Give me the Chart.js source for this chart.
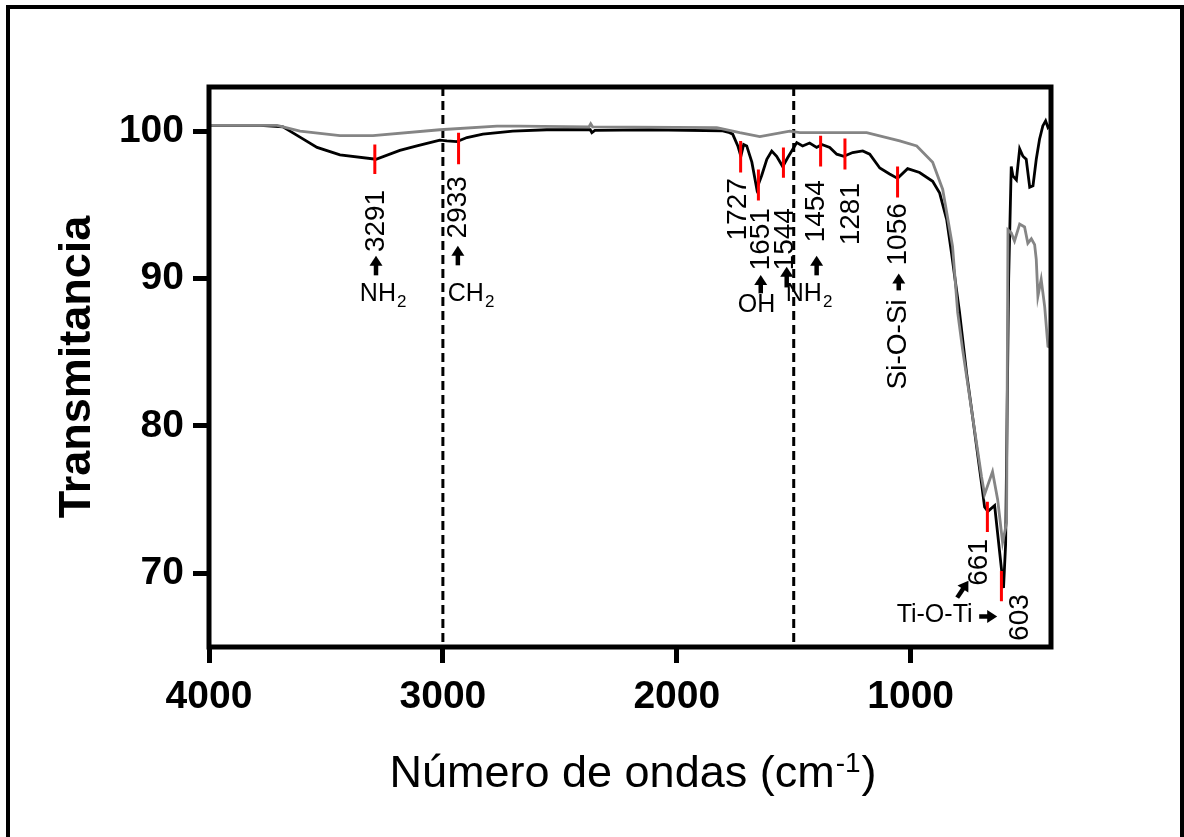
<!DOCTYPE html>
<html lang="es">
<head>
<meta charset="utf-8">
<title>FTIR - Transmitancia</title>
<script src="https://cdn.jsdelivr.net/npm/chart.js@4.4.1/dist/chart.umd.min.js"></script>
<style>
  html, body { margin: 0; padding: 0; background: #fff; }
  body { width: 1184px; height: 837px; overflow: hidden; position: relative; }
  #frame {
    position: absolute; left: 6px; top: 5px;
    width: 1170px; height: 900px;
    border: 4px solid #000; border-bottom: none;
  }
  #chart { position: absolute; left: 0; top: 0; }
</style>
</head>
<body>
<div id="frame"></div>
<canvas id="chart" width="1184" height="837"></canvas>
<script>
/* ========== DATA ========== */
const xTicks = [4000, 3000, 2000, 1000];
const yTicks = [70, 80, 90, 100];
const xMin = 400, xMax = 4000;
const yMin = 65, yMax = 103;

// black spectrum (wavenumber, transmittance)
const blackWn = [4000, 3782, 3684, 3611, 3538, 3440, 3286, 3184, 3111, 3013, 2983, 2940,
  2897, 2829, 2701, 2556, 2402, 2370, 2363, 2350, 2115, 1803, 1774, 1761, 1739, 1726,
  1714, 1701, 1679, 1658, 1637, 1615, 1594, 1573, 1547, 1526, 1487, 1462, 1432, 1402,
  1380, 1346, 1316, 1286, 1248, 1205, 1175, 1132, 1090, 1056, 1013, 962, 906, 876, 846,
  825, 791, 761, 735, 697, 684, 670, 641, 603, 594, 581, 570, 563, 548, 534, 520, 506,
  491, 477, 463, 449, 435, 423, 413, 400];
const blackT = [100.4, 100.4, 100.3, 99.6, 98.9, 98.4, 98.1, 98.7, 99.0, 99.4, 99.35, 99.3,
  99.57, 99.8, 100.0, 100.1, 100.1, 100.1, 99.9, 100.05, 100.1, 100.02, 99.9, 99.8, 99.0, 98.3,
  99.1, 99.0, 97.9, 96.1, 97.0, 98.1, 98.66, 98.3, 97.6, 98.2, 99.23, 99.0, 99.2, 98.9,
  99.1, 98.9, 98.44, 98.3, 98.55, 98.66, 98.44, 97.5, 97.1, 96.8, 97.46, 97.2, 96.6, 95.8, 94.0,
  91.7, 87.7, 83.6, 80.6, 76.1, 74.5, 74.2, 74.6, 69.0, 72.0, 90.0, 97.6, 96.97, 96.7, 98.8, 98.3, 98.1,
  96.2, 96.3, 98.1, 99.46, 100.36, 100.7, 100.25, 100.5];

// gray spectrum (wavenumber, transmittance)
const grayWn = [4000, 3709, 3611, 3440, 3299, 3013, 2769, 2671, 2375, 2368, 2360, 1829,
  1731, 1645, 1517, 1474, 1188, 1047, 974, 906, 863, 821, 799, 778, 735, 697, 684, 650,
  628, 607, 590, 584, 570, 556, 534, 513, 499, 484, 470, 463, 456, 442, 427, 413, 400];
const grayT = [100.4, 100.4, 100.0, 99.7, 99.7, 100.1, 100.35, 100.35, 100.3, 100.5, 100.3, 100.25,
  99.9, 99.64, 100.0, 99.9, 99.9, 99.34, 99.0, 97.9, 96.05, 92.2, 87.7, 85.2, 80.6, 76.55, 75.35, 76.9,
  75.0, 72.1, 73.4, 93.3, 93.1, 92.55, 93.7, 93.5, 92.4, 92.7, 92.3, 91.3, 88.8, 89.95, 88.1, 85.4, 85.3];

// dashed reference lines
const dashWn = [3000, 1500];

// red peak marks
const peakWn = [3291, 2933, 1727, 1651, 1544, 1385, 1281, 1056, 672, 612];
const peakTop = [99.1, 99.9, 99.34, 97.4, 98.9, 99.7, 99.5, 97.6, 74.85, 70.15];
const peakBottom = [97.1, 97.75, 97.2, 95.3, 96.85, 97.6, 97.4, 95.5, 72.8, 68.1];

/* ========== ANNOTATION LAYOUT ========== */
const FONT = "'Liberation Sans', Arial, sans-serif";

const numberLabels = [
  { text: "3291", wn: 3286, t: 93.91 },
  { text: "2933", wn: 2936, t: 94.84 },
  { text: "1727", wn: 1735, t: 94.70 },
  { text: "1651", wn: 1637, t: 92.67 },
  { text: "1544", wn: 1538, t: 92.67 },
  { text: "1454", wn: 1402, t: 94.57 },
  { text: "1281", wn: 1252, t: 94.37 },
  { text: "1056", wn: 1051, t: 93.0 },
  { text: "661", wn: 705, t: 70.74 },
  { text: "603", wn: 530, t: 67.0 },
  { text: "Si-O-Si", wn: 1051, t: 85.54 }
];

const groupLabels = [
  { text: "NH", sub: "2", wn: 3355, t: 88.93 },
  { text: "CH", sub: "2", wn: 2979, t: 88.93 },
  { text: "OH", sub: "", wn: 1739, t: 88.19 },
  { text: "NH", sub: "2", wn: 1534, t: 88.93 },
  { text: "Ti-O-Ti", sub: "", wn: 1060, t: 67.14 }
];

const arrows = [
  { from: [3286, 90.22], to: [3286, 91.55] },
  { from: [2936, 90.9], to: [2936, 92.23] },
  { from: [1641, 89.0], to: [1641, 90.25] },
  { from: [1530, 89.4], to: [1530, 90.8] },
  { from: [1402, 90.22], to: [1402, 91.55] },
  { from: [1051, 89.2], to: [1051, 90.35] },
  { from: [801, 68.35], to: [753, 69.5] },
  { from: [707, 67.07], to: [630, 67.07] }
];

/* ========== HELPERS ========== */
function toPoints(xs, ys) {
  return xs.map((x, i) => ({ x: x, y: ys[i] }));
}

function segmentPoints(xs, tops, bottoms) {
  const pts = [];
  xs.forEach((x, i) => {
    pts.push({ x: x, y: tops[i] }, { x: x, y: bottoms[i] }, { x: x, y: null });
  });
  return pts;
}

function drawArrow(ctx, x1, y1, x2, y2) {
  const ang = Math.atan2(y2 - y1, x2 - x1);
  const head = 10, half = 6.5;
  const bx = x2 - head * Math.cos(ang);
  const by = y2 - head * Math.sin(ang);
  ctx.lineWidth = 4.5;
  ctx.beginPath();
  ctx.moveTo(x1, y1);
  ctx.lineTo(bx + 1 * Math.cos(ang), by + 1 * Math.sin(ang));
  ctx.stroke();
  ctx.beginPath();
  ctx.moveTo(x2, y2);
  ctx.lineTo(bx + half * Math.sin(ang), by - half * Math.cos(ang));
  ctx.lineTo(bx - half * Math.sin(ang), by + half * Math.cos(ang));
  ctx.closePath();
  ctx.fill();
}

/* ========== PLUGIN: frame + annotations ========== */
const annotationPlugin = {
  id: "ftirAnnotations",
  afterDraw(chart) {
    const ctx = chart.ctx;
    const area = chart.chartArea;
    const sx = chart.scales.x;
    const sy = chart.scales.y;

    ctx.save();
    ctx.fillStyle = "#000";
    ctx.strokeStyle = "#000";

    // plot box
    ctx.lineWidth = 5;
    ctx.lineJoin = "miter";
    ctx.strokeRect(area.left, area.top, area.right - area.left, area.bottom - area.top);

    // rotated numbers
    ctx.font = "28px " + FONT;
    ctx.textAlign = "center";
    ctx.textBaseline = "middle";
    numberLabels.forEach((l) => {
      ctx.save();
      ctx.translate(sx.getPixelForValue(l.wn), sy.getPixelForValue(l.t));
      ctx.rotate(-Math.PI / 2);
      ctx.fillText(l.text, 0, 0);
      ctx.restore();
    });

    // group labels with subscripts
    groupLabels.forEach((l) => {
      const x = sx.getPixelForValue(l.wn);
      const y = sy.getPixelForValue(l.t);
      ctx.font = "25px " + FONT;
      ctx.textAlign = "left";
      ctx.textBaseline = "middle";
      ctx.fillText(l.text, x, y);
      if (l.sub) {
        const w = ctx.measureText(l.text).width;
        ctx.font = "17px " + FONT;
        ctx.fillText(l.sub, x + w + 1, y + 8);
      }
    });

    // arrows
    arrows.forEach((a) => {
      drawArrow(ctx,
        sx.getPixelForValue(a.from[0]), sy.getPixelForValue(a.from[1]),
        sx.getPixelForValue(a.to[0]), sy.getPixelForValue(a.to[1]));
    });

    // x axis title with superscript
    const main = "Número de ondas (cm";
    const sup = "-1";
    const close = ")";
    ctx.textAlign = "left";
    ctx.textBaseline = "alphabetic";
    ctx.font = "45px " + FONT;
    const wMain = ctx.measureText(main).width;
    const wClose = ctx.measureText(close).width;
    ctx.font = "28px " + FONT;
    const wSup = ctx.measureText(sup).width;
    let tx = (area.left + area.right) / 2 + 3 - (wMain + wSup + wClose + 2) / 2;
    const baseY = 787;
    ctx.font = "45px " + FONT;
    ctx.fillText(main, tx, baseY);
    tx += wMain + 1;
    ctx.font = "28px " + FONT;
    ctx.fillText(sup, tx, baseY - 15);
    tx += wSup + 1;
    ctx.font = "45px " + FONT;
    ctx.fillText(close, tx, baseY);

    ctx.restore();
  }
};

/* ========== CHART ========== */
(function initChart() {
  const canvas = document.getElementById("chart");
  if (!canvas) return;
  if (typeof Chart === "undefined") return;

  const tickFont = { family: FONT, size: 39, weight: "bold" };

  new Chart(canvas.getContext("2d"), {
    type: "scatter",
    data: {
      datasets: [
        {
          label: "Picos",
          data: segmentPoints(peakWn, peakTop, peakBottom),
          showLine: true,
          borderColor: "#ff0000",
          borderWidth: 3,
          pointRadius: 0,
          order: 0
        },
        {
          label: "Muestra 2",
          data: toPoints(grayWn, grayT),
          showLine: true,
          borderColor: "#858585",
          borderWidth: 2.8,
          pointRadius: 0,
          order: 1
        },
        {
          label: "Muestra 1",
          data: toPoints(blackWn, blackT),
          showLine: true,
          borderColor: "#000000",
          borderWidth: 2.8,
          pointRadius: 0,
          order: 2
        },
        {
          label: "Referencia",
          data: segmentPoints(dashWn, dashWn.map(() => yMax), dashWn.map(() => yMin)),
          showLine: true,
          borderColor: "#000000",
          borderWidth: 3,
          borderDash: [9, 5],
          pointRadius: 0,
          order: 3
        }
      ]
    },
    options: {
      responsive: false,
      animation: false,
      layout: { padding: { top: 87, right: 133, left: 0, bottom: 0 } },
      plugins: {
        legend: { display: false },
        tooltip: { enabled: false }
      },
      scales: {
        x: {
          type: "linear",
          min: xMin,
          max: xMax,
          reverse: true,
          afterBuildTicks: (scale) => { scale.ticks = xTicks.map((v) => ({ value: v })); },
          afterFit: (scale) => { scale.height = 190; },
          grid: { drawOnChartArea: false, drawTicks: true, tickLength: 16, tickWidth: 5, tickColor: "#000" },
          border: { display: false },
          ticks: { color: "#000", font: tickFont, padding: 11, maxRotation: 0, callback: (v) => String(v) }
        },
        y: {
          type: "linear",
          min: yMin,
          max: yMax,
          afterBuildTicks: (scale) => { scale.ticks = yTicks.map((v) => ({ value: v })); },
          afterFit: (scale) => { scale.width = 209; },
          grid: { drawOnChartArea: false, drawTicks: true, tickLength: 16, tickWidth: 5, tickColor: "#000" },
          border: { display: false },
          ticks: { color: "#000", font: tickFont, padding: 9, callback: (v) => String(v) },
          title: {
            display: true,
            text: "Transmitancia",
            color: "#000",
            font: { family: FONT, size: 45, weight: "bold" },
            padding: { top: 51, bottom: 0 }
          }
        }
      }
    },
    plugins: [annotationPlugin]
  });
})();
</script>
</body>
</html>
